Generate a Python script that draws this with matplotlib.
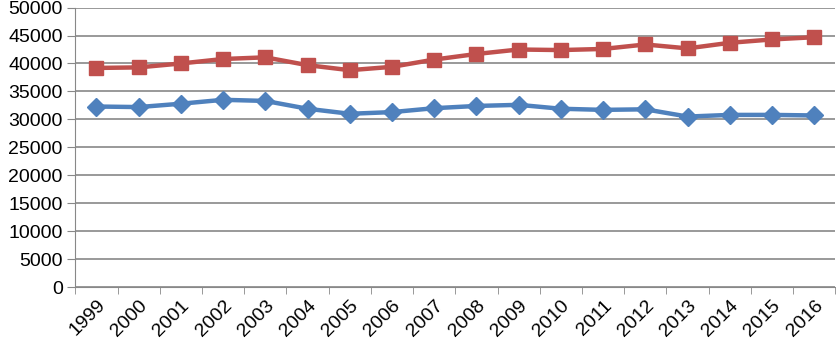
import numpy as np
import matplotlib.pyplot as plt

plt.rcParams['font.family'] = ['Liberation Sans', 'DejaVu Sans']

years = [str(y) for y in range(1999, 2017)]
red_vals = [39200, 39300, 40000, 40800, 41100, 39700, 38800, 39400, 40700,
            41700, 42500, 42400, 42600, 43400, 42700, 43700, 44300, 44700]
blue_vals = [32300, 32200, 32800, 33500, 33300, 31900, 31000, 31300, 32000,
             32400, 32600, 31900, 31700, 31800, 30500, 30800, 30800, 30700]

fig = plt.figure(figsize=(8.37, 3.45), dpi=100)
ax = fig.add_axes([0.09, 0.168, 0.908, 0.81])

x = np.arange(len(years))
ax.plot(x, blue_vals, color="#4F81BD", lw=3.2, marker="D", ms=9,
        markeredgecolor="#4F81BD", zorder=3)
ax.plot(x, red_vals, color="#C0504D", lw=3.2, marker="s", ms=10,
        markeredgecolor="#C0504D", zorder=3)

ax.set_xlim(-0.5, len(years) - 0.5)
ax.set_ylim(0, 50000)
ax.set_yticks(np.arange(0, 50001, 5000))
ax.tick_params(axis="y", length=6, color="#888888", labelsize=14, pad=3)
ax.yaxis.grid(True, color="#888888", lw=1.2)
ax.set_axisbelow(True)

ax.set_xticks(x)
ax.set_xticklabels(years, rotation=45, ha="right", rotation_mode="anchor",
                   fontsize=14)
ax.tick_params(axis="x", length=0, pad=7)
ax.set_xticks(np.arange(-0.5, len(years), 1), minor=True)
ax.tick_params(axis="x", which="minor", length=5, color="#888888")

for s in ["top", "right"]:
    ax.spines[s].set_visible(False)
ax.spines["left"].set_color("#888888")
ax.spines["bottom"].set_color("#888888")

plt.savefig("out.png", dpi=100, facecolor="white")
